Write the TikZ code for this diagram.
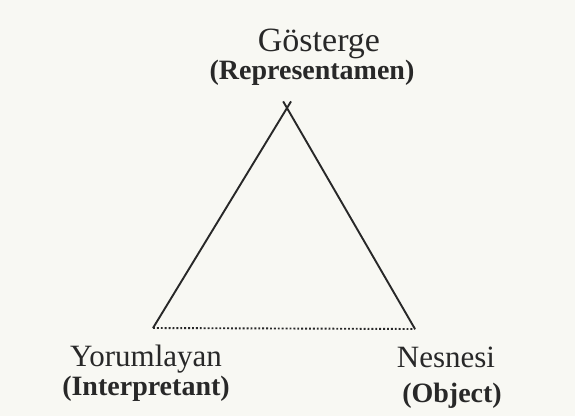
\documentclass[tikz,border=0pt]{standalone}
\usepackage{fontspec}
\setmainfont{Liberation Serif}
\usetikzlibrary{calc}
\definecolor{paper}{RGB}{248,248,243}
\definecolor{ink}{RGB}{40,40,40}
\begin{document}
\begin{tikzpicture}[x=1pt, y=-1pt, font=\fontsize{31}{36}\selectfont, color=ink,
  en/.style={font=\fontsize{28}{32}\selectfont\bfseries}]
  \useasboundingbox[fill=paper] (0,0) rectangle (575,416);
  \coordinate (rep) at (287,108);
  \coordinate (int) at (153,328);
  \coordinate (obj) at (415,329);
  \draw[line width=1.9pt] (int) -- ($(int)!1.03!(rep)$);
  \draw[line width=1.9pt] (obj) -- ($(obj)!1.03!(rep)$);
  \draw[line width=1.9pt, dotted] (int) -- (obj);
  \node[anchor=base, font=\fontsize{34}{38}\selectfont] (gos) at (319,51) {Gösterge};
  \node[anchor=base, en] (repl) at (312,79) {(Representamen)};
  \node[anchor=base] (yor) at (146,366) {Yorumlayan};
  \node[anchor=base, en] (intl) at (146,395) {(Interpretant)};
  \node[anchor=base] (nes) at (446,367) {Nesnesi};
  \node[anchor=base, en] (objl) at (452,402) {(Object)};
\end{tikzpicture}
\end{document}
